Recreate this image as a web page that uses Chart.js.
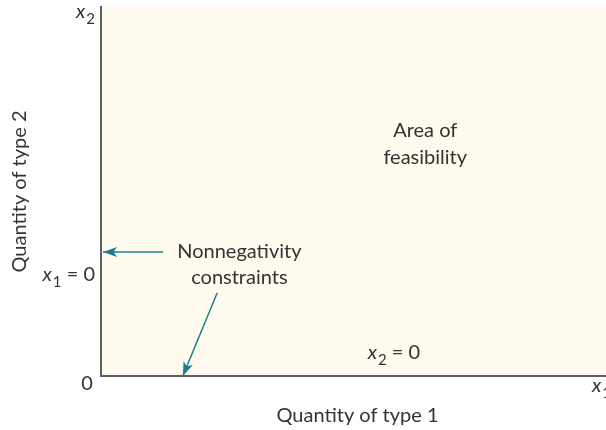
<!DOCTYPE html>
<html>
<head>
<meta charset="utf-8">
<script src="https://cdn.jsdelivr.net/npm/chart.js@4.4.1/dist/chart.umd.min.js"></script>
<style>
html,body{margin:0;padding:0;background:#fff;}
#wrap{width:606px;height:430px;}
</style>
</head>
<body>
<div id="wrap"><canvas id="c" width="606" height="430"></canvas></div>
<script>
// Axis domain (abstract quantities)
const xRange = [0, 10];
const yRange = [0, 10];
// Arrow segments pointing at the nonnegativity constraints [from, to]
const arrowToYAxis = [{x: 1.23, y: 3.36}, {x: 0.04, y: 3.36}];
const arrowToXAxis = [{x: 2.30, y: 2.25}, {x: 1.62, y: 0.0}];
// Labels
const axisTitles = {x: 'Quantity of type 1', y: 'Quantity of type 2'};
const regionLabel = ['Area of', 'feasibility'];
const regionLabelPos = {x: 6.42, y: 6.28};
const constraintLabel = ['Nonnegativity', 'constraints'];
const constraintLabelPos = {x: 2.74, y: 3.0};

const TEXT = '#333333';
const TEAL = '#1b7f94';
const FONT = 'Lato, "Open Sans", sans-serif';
const FS = 20;

function subLabel(ctx, x, y, base, sub, rest, align, size) {
  size = size || FS;
  ctx.save();
  ctx.textBaseline = 'alphabetic';
  ctx.fillStyle = TEXT;
  const fMain = 'italic ' + size + 'px ' + FONT;
  const fSub = Math.round(size * 0.75) + 'px ' + FONT;
  const fRest = size + 'px ' + FONT;
  ctx.font = fMain; const w1 = ctx.measureText(base).width;
  ctx.font = fSub; const w2 = ctx.measureText(sub).width;
  ctx.font = fRest; const w3 = rest ? ctx.measureText(rest).width : 0;
  const total = w1 + w2 + w3 + 1;
  let sx = x;
  if (align === 'center') sx = x - total / 2;
  else if (align === 'right') sx = x - total;
  ctx.textAlign = 'left';
  ctx.font = fMain; ctx.fillText(base, sx, y);
  ctx.font = fSub; ctx.fillText(sub, sx + w1 + 1, y + size * 0.3);
  if (rest) { ctx.font = fRest; ctx.fillText(rest, sx + w1 + w2 + 1, y); }
  ctx.restore();
}

const decor = {
  id: 'decor',
  beforeDraw(chart) {
    const {ctx, chartArea: a} = chart;
    ctx.save();
    ctx.fillStyle = '#fefbee';
    ctx.fillRect(a.left, a.top, a.right - a.left, a.bottom - a.top);
    ctx.restore();
  },
  afterDraw(chart) {
    const {ctx} = chart;
    const xs = chart.scales.x, ys = chart.scales.y;
    const px = v => xs.getPixelForValue(v), py = v => ys.getPixelForValue(v);
    // arrowheads
    chart.data.datasets.forEach((ds, i) => {
      if (!ds.arrow) return;
      const pts = chart.getDatasetMeta(i).data;
      const p0 = pts[0], p1 = pts[1];
      const ang = Math.atan2(p1.y - p0.y, p1.x - p0.x);
      const L = 14, W = 5;
      ctx.save();
      ctx.fillStyle = TEAL;
      ctx.translate(p1.x, p1.y);
      ctx.rotate(ang);
      ctx.beginPath();
      ctx.moveTo(0, 0);
      ctx.lineTo(-L, -W);
      ctx.lineTo(-L * 0.75, 0);
      ctx.lineTo(-L, W);
      ctx.closePath();
      ctx.fill();
      ctx.restore();
    });
    ctx.save();
    ctx.fillStyle = TEXT;
    ctx.font = FS + 'px ' + FONT;
    ctx.textAlign = 'center';
    ctx.textBaseline = 'middle';
    // region label
    const rx = px(regionLabelPos.x), ry = py(regionLabelPos.y);
    ctx.fillText(regionLabel[0], rx, ry - 14);
    ctx.fillText(regionLabel[1], rx, ry + 13);
    // constraint label
    const cx = px(constraintLabelPos.x), cy = py(constraintLabelPos.y);
    ctx.fillText(constraintLabel[0], cx, cy - 14);
    ctx.fillText(constraintLabel[1], cx, cy + 12);
    // origin
    ctx.fillText('0', px(0) - 14, py(0) + 8);
    // axis titles
    ctx.fillText(axisTitles.x, (xs.left + xs.right) / 2 + 4, 416);
    ctx.save();
    ctx.translate(20, (ys.top + ys.bottom) / 2);
    ctx.rotate(-Math.PI / 2);
    ctx.fillText(axisTitles.y, 0, 0);
    ctx.restore();
    ctx.restore();
    // subscripted labels
    subLabel(ctx, px(0) - 6, py(yRange[1]) + 11, 'x', '2', '', 'right');
    subLabel(ctx, px(xRange[1]) - 14, py(0) + 16, 'x', '1', '', 'left');
    subLabel(ctx, px(0) - 6, py(0) - 95, 'x', '1', ' = 0', 'right');
    subLabel(ctx, px(5.8), py(0) - 17, 'x', '2', ' = 0', 'center');
  }
};

new Chart(document.getElementById('c'), {
  type: 'scatter',
  data: {
    datasets: [
      {data: arrowToYAxis, showLine: true, borderColor: TEAL, borderWidth: 1.5, pointRadius: 0, arrow: true},
      {data: arrowToXAxis, showLine: true, borderColor: TEAL, borderWidth: 1.5, pointRadius: 0, arrow: true}
    ]
  },
  options: {
    responsive: false,
    animation: false,
    events: [],
    layout: {padding: {left: 101, top: 7, right: 0, bottom: 54}},
    plugins: {legend: {display: false}, tooltip: {enabled: false}},
    scales: {
      x: {type: 'linear', min: xRange[0], max: xRange[1],
          grid: {display: false, drawTicks: false},
          border: {display: true, color: '#5f5f5f', width: 2},
          ticks: {display: false}},
      y: {type: 'linear', min: yRange[0], max: yRange[1],
          grid: {display: false, drawTicks: false},
          border: {display: true, color: '#5f5f5f', width: 2},
          ticks: {display: false}}
    }
  },
  plugins: [decor]
});
</script>
</body>
</html>
